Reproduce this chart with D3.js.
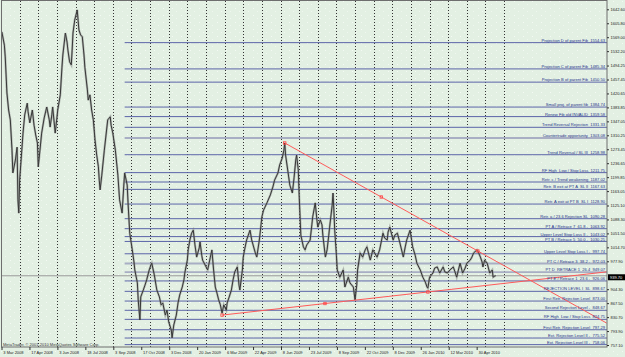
<html>
<head>
<script src="https://d3js.org/d3.v7.min.js"></script>
<style>
body { margin:0; background:#e3f0e3; }
text { font-family: "Liberation Sans", Arial, sans-serif; white-space: pre; }
</style>
</head>
<body>
<svg width="625" height="357" id="chart"></svg>
<script>
// closing prices, [bar number, price]
var priceData = [[1,1583],[4,1548],[5,1517],[7,1422],[9,1377],[11,1351],[13,1271],[14,1211],[17,1245],[19,1279],[20,1140],[21,1105],[22,1192],[24,1253],[26,1316],[28,1364],[31,1395],[32,1372],[34,1343],[37,1377],[39,1337],[41,1311],[43,1290],[44,1227],[46,1271],[48,1316],[51,1356],[54,1385],[57,1351],[58,1332],[60,1364],[61,1385],[64,1316],[66,1356],[67,1377],[70,1417],[72,1490],[73,1522],[76,1580],[78,1556],[79,1535],[81,1504],[83,1496],[84,1535],[85,1580],[87,1614],[90,1641],[91,1614],[92,1588],[94,1575],[96,1570],[98,1522],[99,1490],[102,1430],[103,1403],[105,1417],[107,1377],[109,1351],[111,1298],[113,1258],[115,1227],[116,1192],[117,1166],[119,1205],[122,1271],[124,1311],[126,1351],[129,1359],[130,1337],[132,1316],[135,1271],[137,1227],[138,1205],[140,1140],[143,1105],[145,1179],[146,1211],[149,1179],[150,1132],[152,1052],[155,1008],[157,976],[158,955],[161,921],[162,876],[164,823],[165,884],[168,902],[170,915],[172,929],[175,955],[177,968],[178,973],[181,942],[183,915],[184,902],[187,884],[189,863],[191,868],[194,836],[196,849],[198,818],[201,797],[202,776],[204,810],[207,836],[209,868],[211,889],[214,910],[216,929],[217,947],[220,981],[221,1008],[223,1034],[225,1052],[227,1060],[229,1021],[231,989],[234,1013],[235,1029],[237,994],[238,981],[241,968],[244,955],[247,987],[249,1008],[251,955],[253,910],[255,894],[257,876],[259,863],[261,841],[263,863],[266,849],[267,868],[269,881],[272,902],[274,929],[276,950],[279,963],[281,915],[282,902],[285,955],[286,989],[288,1013],[290,1034],[294,1060],[296,1034],[300,1002],[302,989],[305,1034],[307,1074],[308,1095],[310,1113],[314,1132],[318,1153],[321,1174],[323,1192],[327,1211],[329,1232],[332,1250],[334,1271],[335,1290],[336,1258],[339,1211],[341,1179],[344,1158],[346,1198],[348,1245],[349,1258],[351,1219],[352,1153],[353,1100],[354,1047],[357,1016],[359,1008],[361,1021],[365,1034],[367,1074],[368,1095],[371,1132],[373,1087],[374,1068],[377,1087],[379,1074],[380,1047],[383,989],[385,1008],[387,1047],[388,1068],[391,1126],[392,1158],[393,1113],[394,1060],[396,994],[397,955],[400,936],[404,955],[406,910],[410,936],[412,921],[416,910],[418,876],[420,915],[421,955],[424,1000],[427,989],[430,1008],[432,1016],[436,981],[439,1008],[444,989],[447,1008],[451,1052],[453,1039],[456,1034],[457,1055],[459,1068],[463,1034],[465,1047],[468,1052],[471,1026],[475,989],[477,1013],[479,1034],[483,1060],[486,1016],[489,994],[491,973],[495,955],[498,936],[501,923],[503,910],[504,907],[506,936],[510,947],[512,960],[515,963],[518,947],[522,963],[524,950],[527,947],[530,955],[534,963],[536,950],[538,936],[542,973],[545,947],[548,960],[550,973],[554,981],[556,989],[558,1000],[562,1008],[563,1005],[566,989],[568,976],[569,963],[571,981],[574,973],[577,947],[580,955],[581,936],[583,939],[584,940]];

var levelNames = ["Projection D of parent Fib", "Projection C of parent Fib", "Projection B of parent Fib",
  "Small proj. of parent fib", "Renew Fib old INVALID", "Trend Reversal Rejection", "Countertrade opportunity",
  "Trend Reversal / SL III", "RF High  Low / Stop Loss", "Retr. c / Trend weakening", "Retr. B exit at PT A  SL II",
  "Retr. A exit at PT B  SL I", "Retr. a / 23.6 Rejection SL", "PT A / Retrace 7  61.8 -", "Upper Level Stop Loss II -",
  "PT B / Retrace 5  50.0 -", "Upper Level Stop Loss I -", "PT C / Retrace 3  38.2 -", "PT D  RETRACE 1  26.4",
  "PT E / Retrace 1  23.6 -", "REJECTION LEVEL I  SL", "First Retr. Rejection Level", "Second Rejection Level -",
  "RF High  Low / Stop Loss", "First Retr. Rejection Level", "Ext. Rejection Level II -", "Ext. Rejection Level III -"];
var levelValues = [1554.63, 1485.34, 1450.50, 1384.74, 1359.58, 1331.33, 1303.08, 1258.98, 1211.75, 1187.02, 1167.63,
  1128.90, 1090.28, 1063.92, 1043.02, 1030.25, 997.74, 972.03, 949.07, 926.06, 898.67, 873.00, 848.67, 824.75,
  797.29, 775.52, 758.06];
var grayLevels = [1303.08, 972.03, 949.07];
var levelStartBar = 146;

var axisTicks = [1642.60, 1605.80, 1569.00, 1532.20, 1494.25, 1457.45, 1420.65, 1383.85, 1347.05, 1310.25, 1273.45,
  1236.65, 1199.85, 1163.05, 1125.10, 1088.30, 1051.50, 1014.70, 977.90, 904.30, 867.50, 830.70, 793.90, 757.10];
var dateLabels = ["3 Mar 2008", "17 Apr 2008", "3 Jun 2008", "18 Jul 2008", "3 Sep 2008", "17 Oct 2008", "3 Dec 2008",
  "20 Jan 2009", "6 Mar 2009", "22 Apr 2009", "8 Jun 2009", "23 Jul 2009", "8 Sep 2009", "22 Oct 2009", "8 Dec 2009",
  "26 Jan 2010", "12 Mar 2010", "30 Apr 2010"];
var barsPerLabel = 33;
var barsPerGrid = 22;
var bidPrice = 939.70;

var upperTrend = [[335, 1290], [563, 1005]];
var lowerTrend = [[261, 836], [504, 897]];

var svg = d3.select("#chart");
var plotL = 2, plotR = 607, plotT = 1, plotB = 347;
var lastBar = 715;

var x = d3.scaleLinear().domain([0, lastBar]).range([1, 606.6]);
var y = d3.scaleLinear().domain([757.1, 1642.6]).range([345, 9.3]);

// speckled background
var defs = svg.append("defs");
var pat = defs.append("pattern").attr("id", "dots").attr("width", 9).attr("height", 7)
  .attr("patternUnits", "userSpaceOnUse");
pat.append("rect").attr("width", 9).attr("height", 7).attr("fill", "#e3f0e3");
pat.append("rect").attr("x", 1).attr("y", 1).attr("width", 1).attr("height", 1).attr("fill", "#f4faf4");
pat.append("rect").attr("x", 5).attr("y", 4).attr("width", 1).attr("height", 1).attr("fill", "#eff7ef");
defs.append("clipPath").attr("id", "plot").append("rect")
  .attr("x", plotL).attr("y", plotT).attr("width", plotR - plotL).attr("height", plotB - plotT);

svg.append("rect").attr("width", 625).attr("height", 357).attr("fill", "url(#dots)");

var plot = svg.append("g").attr("clip-path", "url(#plot)");

// vertical dotted grid
plot.selectAll(".vgrid").data(d3.range(barsPerGrid, 600, barsPerGrid)).enter().append("line")
  .attr("class", "vgrid")
  .attr("x1", d => Math.round(x(d)) + 0.5).attr("x2", d => Math.round(x(d)) + 0.5)
  .attr("y1", plotT).attr("y2", plotB)
  .attr("stroke", "#333").attr("stroke-width", 1).attr("stroke-dasharray", "1,2");

// level lines
var levels = levelValues.map((v, i) => ({name: levelNames[i], value: v}));
plot.selectAll(".level").data(levels).enter().append("line")
  .attr("class", "level")
  .attr("x1", x(levelStartBar)).attr("x2", plotR)
  .attr("y1", d => y(d.value)).attr("y2", d => y(d.value))
  .attr("stroke", d => grayLevels.indexOf(d.value) >= 0 ? "#a8aec4" : "#5b64a8")
  .attr("stroke-width", d => grayLevels.indexOf(d.value) >= 0 ? 1.8 : 1);

// bid line
plot.append("line")
  .attr("x1", plotL).attr("x2", plotR)
  .attr("y1", y(bidPrice)).attr("y2", y(bidPrice))
  .attr("stroke", "#9a9a9a").attr("stroke-width", 1);

// price
var line = d3.line().x(d => x(d[0])).y(d => y(d[1]));
plot.append("path").datum(priceData).attr("d", line)
  .attr("fill", "none").attr("stroke", "#7a7a7a").attr("stroke-width", 2.2).attr("stroke-opacity", 0.5);
plot.append("path").datum(priceData).attr("d", line)
  .attr("fill", "none").attr("stroke", "#383838").attr("stroke-width", 1);

// trend lines, extended to the right edge
function extend(t) {
  var slope = (t[1][1] - t[0][1]) / (t[1][0] - t[0][0]);
  return [t[0], [lastBar, t[1][1] + slope * (lastBar - t[1][0])]];
}
[upperTrend, lowerTrend].forEach(function(t) {
  var e = extend(t);
  plot.append("line")
    .attr("x1", x(e[0][0])).attr("y1", y(e[0][1]))
    .attr("x2", x(e[1][0])).attr("y2", y(e[1][1]))
    .attr("stroke", "#ff5a5a").attr("stroke-width", 1);
  var mid = [(t[0][0] + t[1][0]) / 2, (t[0][1] + t[1][1]) / 2];
  plot.selectAll(null).data([t[0], mid, t[1]]).enter().append("rect")
    .attr("x", d => x(d[0]) - 1.2).attr("y", d => y(d[1]) - 1.2)
    .attr("width", 2.4).attr("height", 2.4)
    .attr("fill", "none").attr("stroke", "#ff4040").attr("stroke-width", 0.8);
});

// level labels
plot.selectAll(".lvlText").data(levels).enter().append("text")
  .attr("class", "lvlText")
  .attr("x", plotR - 2).attr("y", d => y(d.value) - 0.9)
  .attr("text-anchor", "end")
  .attr("font-size", 4.1)
  .attr("fill", "#26338a")
  .text(d => d.name + "  " + d.value.toFixed(2));

// frame
svg.append("rect").attr("x", plotL - 0.5).attr("y", plotT - 0.5)
  .attr("width", plotR - plotL + 0.5).attr("height", plotB - plotT + 0.5)
  .attr("fill", "none").attr("stroke", "#6e6e6e").attr("stroke-width", 1);

// price axis
var yAxis = d3.axisRight(y).tickValues(axisTicks).tickSize(2).tickFormat(d3.format(".2f"));
var ya = svg.append("g").attr("transform", "translate(" + plotR + ",0)").call(yAxis);
ya.select(".domain").remove();
ya.selectAll("line").attr("stroke", "#333");
ya.selectAll("text").attr("x", 3.5).attr("font-size", 4).attr("fill", "#222")
  .attr("font-family", "'Liberation Sans', Arial, sans-serif");

// bid box
svg.append("rect").attr("x", plotR + 1).attr("y", y(bidPrice) - 1.5)
  .attr("width", 17).attr("height", 6).attr("fill", "#000");
svg.append("text").attr("x", plotR + 3).attr("y", y(bidPrice) + 3)
  .attr("font-size", 4).attr("fill", "#fff").text(bidPrice.toFixed(2));

// time axis
var dateBars = dateLabels.map((d, i) => i * barsPerLabel);
var xa = svg.append("g").attr("transform", "translate(0," + plotB + ")")
  .call(d3.axisBottom(x).tickValues(dateBars).tickSize(3).tickFormat((d, i) => dateLabels[i]));
xa.select(".domain").remove();
xa.selectAll("line").attr("stroke", "#333").attr("transform", "translate(0.5,0)");
xa.selectAll("text").attr("y", 6.8).attr("dy", null).attr("x", 1.8)
  .attr("text-anchor", "start").attr("font-size", 4).attr("fill", "#222")
  .attr("font-family", "'Liberation Sans', Arial, sans-serif");

// copyright line
svg.append("text").attr("x", 3).attr("y", 345.5).attr("font-size", 4).attr("fill", "#333")
  .text("MetaTrader, \u00a9 2001-2010 MetaQuotes Software Corp.");
</script>
</body>
</html>
